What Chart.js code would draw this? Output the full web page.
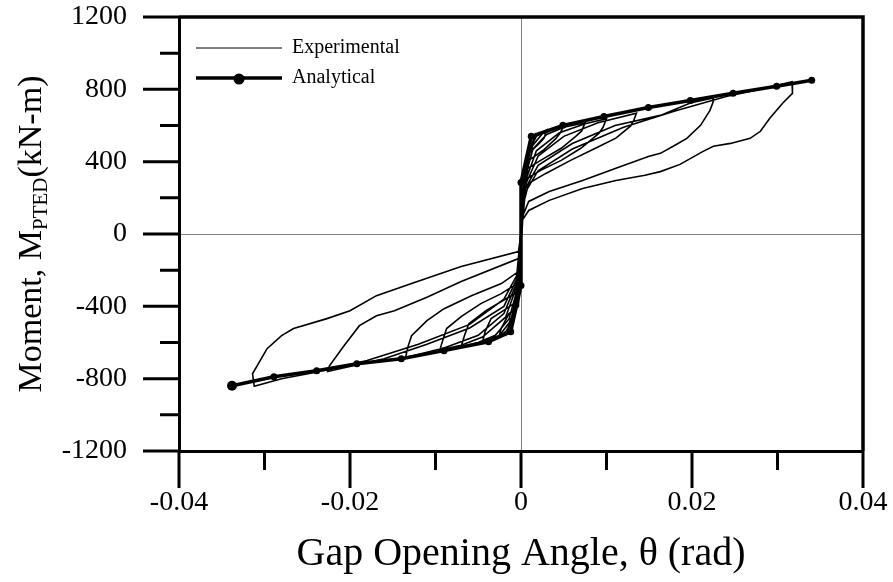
<!DOCTYPE html>
<html>
<head>
<meta charset="utf-8">
<script src="https://cdn.jsdelivr.net/npm/chart.js@4"></script>
<style>
  body { margin: 0; background: #fff; }
  #wrap { width: 893px; height: 582px; position: relative; }
</style>
</head>
<body>
<div id="wrap"><canvas id="momentChart"></canvas></div>
<script>
// Moment vs gap opening angle (hysteresis) - experimental vs analytical

// Axis ticks
const xTicks = [-0.04, -0.02, 0, 0.02, 0.04];
const yTicks = [-1200, -800, -400, 0, 400, 800, 1200];

// Experimental trace, one cycle per pair of arrays (theta in rad, moment in kN-m)
const c1Theta = [0, 0.0001, 0.0003, 0.0008, 0.0015, 0.0013, 0.0007, 0.0002, -0.0001, -0.0003, -0.0008, -0.0015, -0.0013, -0.0006, -0.0002];
const c1Moment = [0, 150, 300, 450, 525, 480, 420, 220, -100, -300, -450, -530, -480, -410, -220];

const c2Theta = [0, 0.0001, 0.0003, 0.0009, 0.0018, 0.003, 0.0027, 0.0021, 0.0009, 0.0003, 0.0001, -0.0001, -0.0003, -0.0009, -0.0017, -0.0026, -0.0023, -0.0014, -0.0003, -0.0001];
const c2Moment = [0, 150, 300, 460, 540, 575, 530, 500, 446, 300, 100, -100, -300, -460, -535, -570, -520, -440, -402, -150];

const c3Theta = [0, 0.0001, 0.0004, 0.0012, 0.0025, 0.005, 0.0046, 0.0041, 0.0026, 0.0009, 0.0003, 0.0001, -0.0001, -0.0004, -0.0012, -0.0025, -0.0045, -0.0042, -0.0035, -0.0017, -0.0005, -0.0002];
const c3Moment = [0, 150, 320, 480, 555, 598, 560, 529, 463, 407, 250, 80, -80, -320, -480, -560, -597, -540, -468, -413, -374, -200];

const c4Theta = [0, 0.0001, 0.0004, 0.0014, 0.003, 0.005, 0.0075, 0.0071, 0.0064, 0.0047, 0.0023, 0.0008, 0.0003, 0.0001, -0.0001, -0.0004, -0.0014, -0.003, -0.005, -0.007, -0.0066, -0.0061, -0.0041, -0.0017, -0.0003, -0.0001];
const c4Moment = [0, 120, 300, 470, 550, 590, 615, 570, 540, 474, 407, 363, 220, 60, -60, -300, -470, -560, -600, -622, -560, -496, -424, -357, -319, -150];

const c5Theta = [0, 0.0001, 0.0005, 0.0018, 0.0045, 0.0075, 0.010, 0.0096, 0.0091, 0.007, 0.0047, 0.0023, 0.0007, 0.0002, 0.0001, -0.0001, -0.0005, -0.0018, -0.0045, -0.007, -0.0095, -0.0091, -0.0087, -0.007, -0.0047, -0.0023, -0.0005, -0.0001];
const c5Moment = [0, 100, 290, 460, 560, 610, 638, 590, 556, 474, 407, 352, 307, 180, 40, -40, -290, -460, -570, -615, -642, -580, -523, -457, -385, -330, -274, -100];

const c6Theta = [0, 0.0001, 0.0005, 0.002, 0.005, 0.009, 0.0135, 0.0132, 0.0128, 0.0111, 0.0087, 0.0058, 0.0029, 0.0009, 0.0002, 0.0001, -0.0001, -0.0005, -0.002, -0.005, -0.009, -0.0135, -0.0132, -0.0128, -0.011, -0.009, -0.0058, -0.0023, -0.0003, -0.0001];
const c6Moment = [0, 80, 270, 430, 540, 615, 668, 630, 596, 530, 474, 407, 335, 280, 150, 20, -20, -270, -440, -560, -630, -683, -620, -562, -479, -413, -341, -274, -208, -60];

const c7Theta = [0, 0.0001, 0.0005, 0.002, 0.006, 0.011, 0.0163, 0.0198, 0.0225, 0.0225, 0.0221, 0.021, 0.0194, 0.0178, 0.0163, 0.0149, 0.0111, 0.0072, 0.0033, 0.0009, 0.0002, 0.0001, -0.0001, -0.0005, -0.002, -0.006, -0.011, -0.016, -0.0226, -0.0224, -0.0207, -0.0189, -0.0169, -0.0148, -0.011, -0.007, -0.0003, -0.0001];
const c7Moment = [0, 60, 250, 380, 500, 600, 656, 725, 752, 734, 684, 601, 529, 485, 446, 429, 363, 296, 235, 180, 100, 0, -40, -250, -400, -520, -610, -690, -760, -729, -618, -507, -452, -424, -350, -263, -136, -40];

const c8Theta = [0, 0.0001, 0.0005, 0.002, 0.006, 0.012, 0.018, 0.024, 0.028, 0.0317, 0.0318, 0.0317, 0.0306, 0.0291, 0.028, 0.0268, 0.0245, 0.0225, 0.0213, 0.0186, 0.0163, 0.0145, 0.0111, 0.0072, 0.0033, 0.0009, 0.0002, 0.0001, -0.0001, -0.0005, -0.002, -0.006, -0.012, -0.018, -0.024, -0.028, -0.0312, -0.0314, -0.0297, -0.028, -0.0266, -0.0227, -0.02, -0.0169, -0.0128, -0.007, -0.0003, 0];
const c8Moment = [0, 30, 230, 350, 470, 590, 680, 760, 800, 842, 817, 778, 723, 640, 568, 529, 501, 485, 457, 385, 345, 325, 296, 252, 186, 130, 80, 0, -30, -230, -360, -500, -610, -700, -765, -800, -842, -773, -634, -562, -523, -468, -424, -341, -274, -180, -97, 0];

// Analytical backbone
const anaTheta = [-0.0338, -0.0289, -0.0239, -0.0192, -0.0140, -0.0090, -0.0038, -0.0012, 0, 0, 0, 0.0012, 0.0049, 0.0097, 0.0149, 0.0198, 0.0248, 0.0299, 0.0340];
const anaMoment = [-839, -789, -756, -717, -690, -645, -596, -540, -285, 0, 285, 540, 601, 650, 700, 738, 778, 817, 850];

const serif = '"Liberation Serif", "Times New Roman", serif';

// Build the experimental trace from the cycles
const expTheta = [].concat(c1Theta, c2Theta, c3Theta, c4Theta, c5Theta, c6Theta, c7Theta, c8Theta);
const expMoment = [].concat(c1Moment, c2Moment, c3Moment, c4Moment, c5Moment, c6Moment, c7Moment, c8Moment);
const expPoints = expTheta.map((t, i) => ({ x: t, y: expMoment[i] }));
const anaPoints = anaTheta.map((t, i) => ({ x: t, y: anaMoment[i] }));

function isMajor(value, step) {
    return Math.abs(Math.round(value / step * 2)) % 2 === 0;
}

// Outward tick marks (major long, minor short) and top/right frame
const frameAndTicks = {
    id: 'frameAndTicks',
    afterDraw(chart) {
        const { ctx, chartArea, scales } = chart;
        ctx.save();
        ctx.strokeStyle = '#000';
        ctx.lineWidth = 3;
        ctx.beginPath();
        scales.x.ticks.forEach(t => {
            const px = scales.x.getPixelForValue(t.value);
            const len = isMajor(t.value, 0.02) ? 37 : 19;
            ctx.moveTo(px, chartArea.bottom);
            ctx.lineTo(px, chartArea.bottom + len);
        });
        scales.y.ticks.forEach(t => {
            const py = scales.y.getPixelForValue(t.value);
            const len = isMajor(t.value, 400) ? 36 : 19;
            ctx.moveTo(chartArea.left, py);
            ctx.lineTo(chartArea.left - len, py);
        });
        ctx.stroke();
        ctx.lineWidth = 3.5;
        ctx.beginPath();
        ctx.moveTo(chartArea.left, chartArea.top);
        ctx.lineTo(chartArea.right, chartArea.top);
        ctx.lineTo(chartArea.right, chartArea.bottom);
        ctx.stroke();
        ctx.restore();
    }
};

// Y axis title with the PTED subscript
const yTitle = {
    id: 'yTitle',
    afterDraw(chart) {
        const { ctx, chartArea } = chart;
        const parts = [
            ['Moment, M', '34px ' + serif, 0],
            ['PTED', '21px ' + serif, 9],
            ['(kN-m)', '34px ' + serif, 0]
        ];
        ctx.save();
        let total = 0;
        parts.forEach(p => { ctx.font = p[1]; total += ctx.measureText(p[0]).width; });
        ctx.translate(32, (chartArea.top + chartArea.bottom) / 2);
        ctx.rotate(-Math.PI / 2);
        ctx.textBaseline = 'middle';
        ctx.fillStyle = '#000';
        let x = -total / 2;
        parts.forEach(p => {
            ctx.font = p[1];
            ctx.fillText(p[0], x, p[2]);
            x += ctx.measureText(p[0]).width;
        });
        ctx.restore();
    }
};

// Legend drawn inside the plot, top left
const innerLegend = {
    id: 'innerLegend',
    afterDraw(chart) {
        const { ctx, chartArea } = chart;
        const x0 = chartArea.left + 17, x1 = chartArea.left + 103, tx = chartArea.left + 113;
        ctx.save();
        ctx.font = '20px ' + serif;
        ctx.textBaseline = 'middle';
        ctx.fillStyle = '#000';
        ctx.strokeStyle = '#000';
        chart.data.datasets.forEach((ds, i) => {
            const y = chartArea.top + 31 + i * 30;
            ctx.lineWidth = ds.legendLine;
            ctx.beginPath();
            ctx.moveTo(x0, y);
            ctx.lineTo(x1, y);
            ctx.stroke();
            if (ds.legendDot) {
                ctx.beginPath();
                ctx.arc((x0 + x1) / 2, y + 1, 5.5, 0, Math.PI * 2);
                ctx.fill();
            }
            ctx.fillText(ds.label, tx, y);
        });
        ctx.restore();
    }
};

function initMomentChart() {
    const ctx = document.getElementById('momentChart').getContext('2d');

    window.momentChart = new Chart(ctx, {
        type: 'scatter',
        data: {
            datasets: [
                {
                    label: 'Experimental',
                    data: expPoints,
                    showLine: true,
                    legendLine: 1,
                    borderColor: '#000',
                    borderWidth: 1.6,
                    pointRadius: 0,
                    tension: 0
                },
                {
                    label: 'Analytical',
                    data: anaPoints,
                    showLine: true,
                    legendLine: 3.5,
                    legendDot: true,
                    borderColor: '#000',
                    backgroundColor: '#000',
                    borderWidth: 3.5,
                    pointRadius: c => (anaMoment[c.dataIndex] === 0 ? 0 : (c.dataIndex === 0 ? 5 : 3.5)),
                    pointBorderWidth: 0,
                    tension: 0
                }
            ]
        },
        options: {
            responsive: true,
            maintainAspectRatio: false,
            animation: false,
            layout: { padding: { top: 17, right: 30, left: 0, bottom: 0 } },
            plugins: {
                legend: { display: false },
                tooltip: { enabled: false }
            },
            scales: {
                x: {
                    type: 'linear',
                    min: xTicks[0],
                    max: xTicks[xTicks.length - 1],
                    afterFit: scale => {
                        scale.height = 131;
                        scale.paddingLeft = 0;
                        scale.paddingRight = 0;
                    },
                    border: { display: true, color: '#000', width: 3 },
                    grid: {
                        drawTicks: false,
                        lineWidth: 1,
                        color: c => (c.tick && c.tick.value === 0 ? '#808080' : 'rgba(0,0,0,0)')
                    },
                    ticks: {
                        stepSize: 0.01,
                        autoSkip: false,
                        maxRotation: 0,
                        padding: 35,
                        color: '#000',
                        font: { family: serif, size: 28 },
                        callback: v => (xTicks.some(t => Math.abs(t - v) < 1e-9) ? (Math.abs(v) < 1e-9 ? '0' : v.toFixed(2)) : '')
                    },
                    title: {
                        display: true,
                        text: 'Gap Opening Angle, \u03b8 (rad)',
                        color: '#000',
                        font: { family: serif, size: 40 },
                        padding: { top: 0, bottom: 4 }
                    }
                },
                y: {
                    type: 'linear',
                    min: yTicks[0],
                    max: yTicks[yTicks.length - 1],
                    afterFit: scale => {
                        scale.width = 179;
                        scale.paddingTop = 0;
                        scale.paddingBottom = 0;
                    },
                    border: { display: true, color: '#000', width: 3 },
                    grid: {
                        drawTicks: false,
                        lineWidth: 1,
                        color: c => (c.tick && c.tick.value === 0 ? '#808080' : 'rgba(0,0,0,0)')
                    },
                    ticks: {
                        stepSize: 200,
                        autoSkip: false,
                        padding: 52,
                        color: '#000',
                        font: { family: serif, size: 28 },
                        callback: v => (yTicks.includes(v) ? String(v) : '')
                    }
                }
            }
        },
        plugins: [frameAndTicks, yTitle, innerLegend]
    });
}

initMomentChart();
</script>
</body>
</html>
